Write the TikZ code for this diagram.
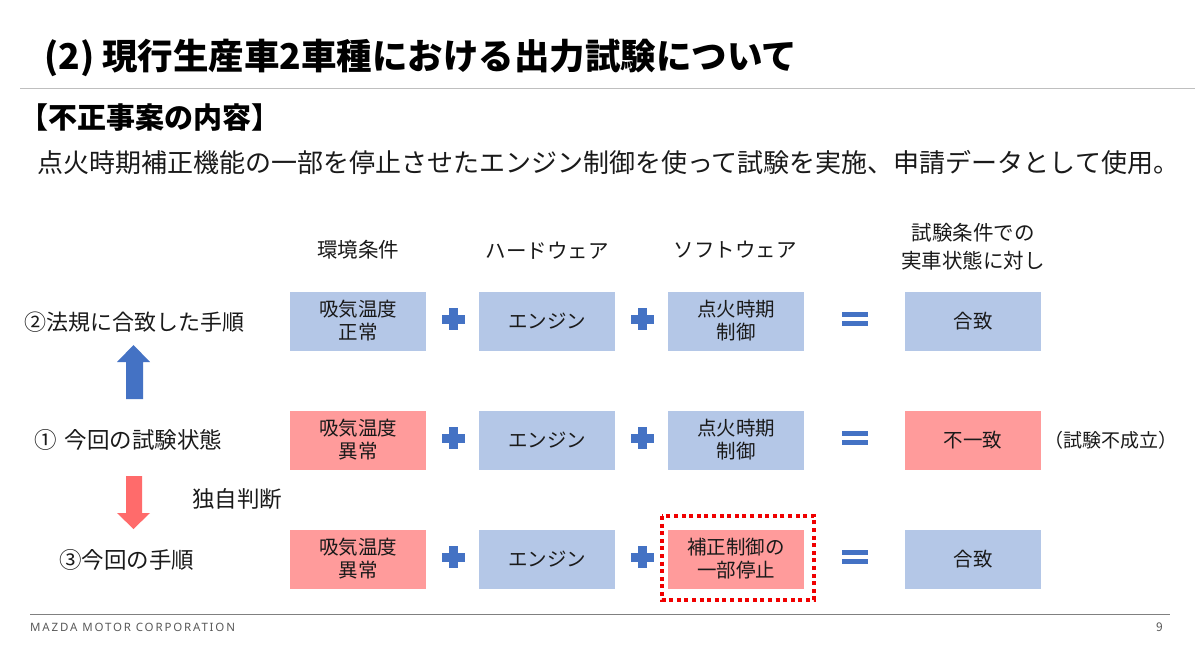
\documentclass[tikz,border=0pt]{standalone}
\usepackage{fontspec}
\setmainfont{Noto Sans CJK JP}
\newfontfamily\footfont{Noto Sans}[LetterSpace=16]
\definecolor{boxblue}{HTML}{B4C7E7}
\definecolor{boxpink}{HTML}{FF9B9B}
\definecolor{symblue}{HTML}{4472C4}
\definecolor{arrred}{HTML}{FF6B6B}
\definecolor{dotred}{HTML}{F00000}
\definecolor{txt}{HTML}{1A1A1A}
\definecolor{rule}{HTML}{BFBFBF}
\definecolor{footgray}{HTML}{595959}
\tikzset{
  bx/.style={minimum width=136pt, minimum height=59pt, inner sep=0pt, align=center,
             text=txt, font=\fontsize{19.5}{23}\selectfont},
  bluebox/.style={bx, fill=boxblue},
  pinkbox/.style={bx, fill=boxpink},
  lbl/.style={text=txt, inner sep=0pt, font=\fontsize{22.5}{26}\selectfont},
  hdr/.style={text=txt, inner sep=0pt, align=center, font=\fontsize{20.5}{28}\selectfont},
  plussign/.pic={\fill[symblue] (-11.5,-4.5) rectangle (11.5,4.5);
                 \fill[symblue] (-4.5,-11) rectangle (4.5,11);},
  equalsign/.pic={\fill[symblue] (-13,-7) rectangle (13,-2.2);
                  \fill[symblue] (-13,2.2) rectangle (13,7);}
}
\begin{document}
\begin{tikzpicture}[x=1pt,y=-1pt]
\fill[white] (0,0) rectangle (1200,665);
\useasboundingbox (0,0) rectangle (1200,665);
% title
\node[anchor=west, inner sep=0pt, text=black, font=\fontsize{35.5}{40}\selectfont\bfseries] (title) at (44,58) {(2) 現行生産車2車種における出力試験について};
\draw[rule, line width=1pt] (20,88) -- (1195,88);
\node[anchor=west, inner sep=0pt, text=black, font=\fontsize{29}{32}\selectfont\bfseries] (sec) at (19,118) {【不正事案の内容】};
\node[anchor=west, inner sep=0pt, text=txt, font=\fontsize{26}{30}\selectfont] (desc) at (37,163) {点火時期補正機能の一部を停止させたエンジン制御を使って試験を実施、申請データとして使用。};
% headers
\node[hdr] (h1) at (358,250) {環境条件};
\node[hdr] (h2) at (547,251) {ハードウェア};
\node[hdr] (h3) at (735,250) {ソフトウェア};
\node[hdr] (h4) at (973,247) {試験条件での\\実車状態に対し};
% row 1
\node[bluebox] (a1) at (358,321) {吸気温度\\正常};
\node[bluebox] (b1) at (547,321) {エンジン};
\node[bluebox] (c1) at (736,321) {点火時期\\制御};
\node[bluebox] (d1) at (973,321) {合致};
% row 2
\node[pinkbox] (a2) at (358,440) {吸気温度\\異常};
\node[bluebox] (b2) at (547,440) {エンジン};
\node[bluebox] (c2) at (736,440) {点火時期\\制御};
\node[pinkbox] (d2) at (973,440) {不一致};
% row 3
\node[pinkbox] (a3) at (358,559) {吸気温度\\異常};
\node[bluebox] (b3) at (547,559) {エンジン};
\node[pinkbox] (c3) at (736,559) {補正制御の\\一部停止};
\node[bluebox] (d3) at (973,559) {合致};
\draw[dotred, line width=4pt, dash pattern=on 4pt off 3.6pt] (662,516) rectangle (814,600);
% operators
\foreach \y in {319,438,557} {
  \pic at (453.5,\y) {plussign};
  \pic at (642,\y) {plussign};
  \pic at (855,\y) {equalsign};
}
% row labels
\node[lbl, anchor=west, font=\fontsize{22}{26}\selectfont] (r2) at (24,322) {②法規に合致した手順};
\node[lbl, anchor=west] (r1) at (34,440) {①\hspace{0.35em}今回の試験状態};
\node[lbl, anchor=west] (r3) at (59,560) {③今回の手順};
\node[text=txt, inner sep=0pt, anchor=west, font=\fontsize{19}{22}\selectfont] (ng) at (1044,440) {（試験不成立）};
\node[lbl, anchor=west] (own) at (192,499) {独自判断};
% block arrows
\fill[symblue] (133.5,345) -- (150,362) -- (143,362) -- (143,399) -- (126,399) -- (126,362) -- (117,362) -- cycle;
\fill[arrred] (133.5,529) -- (150,513) -- (142,513) -- (142,476) -- (126,476) -- (126,513) -- (117,513) -- cycle;
% footer
\draw[gray, line width=1pt] (30,614) -- (1170,614);
\node[anchor=west, inner sep=0pt, text=footgray, font=\footfont\fontsize{11.5}{13}\selectfont] (corp) at (30,627) {MAZDA MOTOR CORPORATION};
\node[anchor=east, inner sep=0pt, text=footgray, font=\fontsize{12}{14}\selectfont] (pg) at (1163,627) {9};
\end{tikzpicture}
\end{document}
